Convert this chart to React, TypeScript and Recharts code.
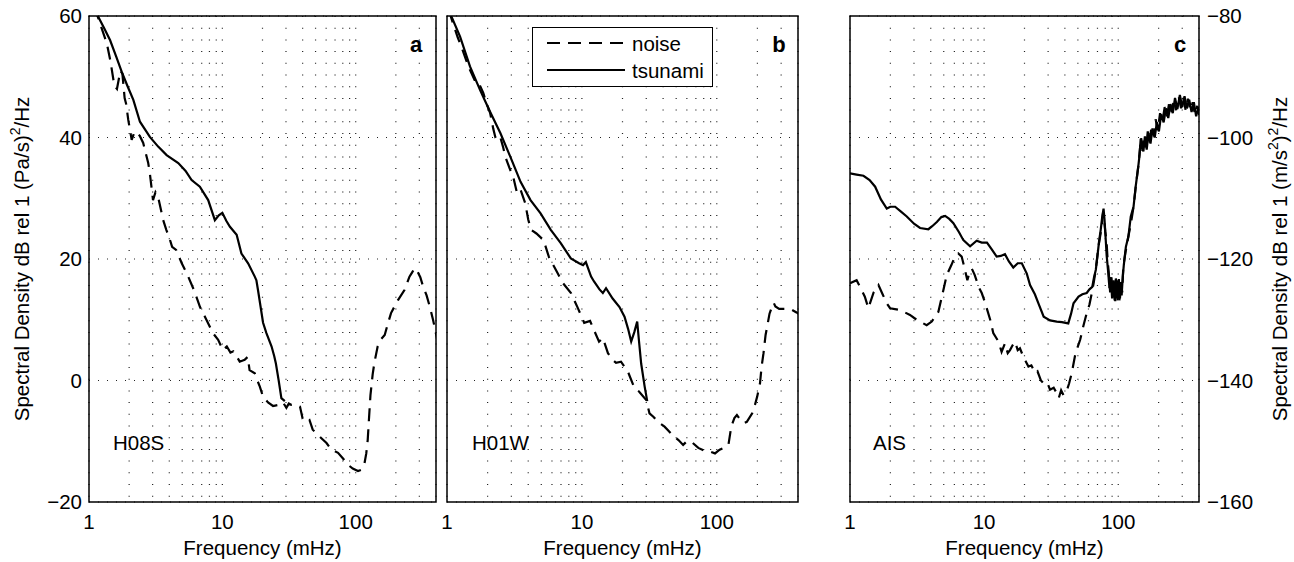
import React from "react";
import { LineChart, Line, XAxis, YAxis, CartesianGrid, ReferenceArea, Legend } from "recharts";

const FONT = '"Liberation Sans", Arial, Helvetica, sans-serif';
const FS = 20.5;
const DASH = "13 8";

const freqTicks = [1, 2, 3, 4, 5, 6, 7, 8, 9, 10, 20, 30, 40, 50, 60, 70, 80, 90, 100, 200, 300, 400];
const freqLabels = [1, 10, 100];
const pressureTicks = [-20, 0, 20, 40, 60];
const accelTicks = [-160, -140, -120, -100, -80];

// [frequency mHz, dB]
const h08sTsunami: [number, number][] = [
  [1.1, 61.2], [1.17, 59.9], [1.3, 58.0], [1.44, 56.0], [1.6, 53.3], [1.76, 50.8], [1.95, 48.4], [2.15, 46.2],
  [2.41, 42.6], [2.86, 40.1], [3.3, 38.5], [3.82, 37.1], [4.67, 35.8], [5.3, 34.5], [5.88, 33.0], [6.78, 31.9],
  [7.83, 29.7], [8.79, 26.4], [9.4, 27.2], [10.0, 27.6], [10.7, 26.3], [11.4, 25.3], [12.8, 24.0], [13.9, 20.9],
  [15.6, 19.3], [17.5, 17.1], [18.0, 16.5], [18.5, 14.9], [20.2, 9.5], [21.4, 7.8], [23.4, 5.6], [24.5, 4.0],
  [25.2, 2.8], [26.4, 0.1], [27.7, -2.9], [29.4, -3.4],
];
const h08sNoise: [number, number][] = [
  [1.1, 61.5], [1.2, 59.0], [1.36, 55.5], [1.45, 52.5], [1.55, 48.5], [1.62, 48.0], [1.72, 51.0], [1.78, 50.5],
  [1.85, 46.5], [1.9, 45.5], [1.97, 42.9], [2.09, 39.6], [2.2, 41.0], [2.4, 40.3], [2.55, 39.1], [2.78, 35.8],
  [2.86, 34.1], [3.02, 29.7], [3.15, 31.0], [3.3, 30.2], [3.6, 26.4], [3.8, 24.8], [4.0, 23.5], [4.2, 22.0],
  [4.5, 21.5], [4.96, 19.3], [5.55, 17.1], [6.2, 14.6], [6.8, 12.1], [7.4, 10.5], [8.5, 7.8], [9.3, 6.7],
  [10.1, 5.0], [10.8, 5.6], [11.5, 4.6], [12.1, 4.8], [12.4, 4.5], [13.5, 3.1], [14.7, 3.4], [15.5, 3.9],
  [16.0, 1.7], [17.5, 1.2], [18.3, 0.0], [19.1, -1.0], [20.2, -2.7], [22.0, -3.6], [24.0, -4.2], [26.5, -4.0],
  [28.5, -3.6], [30.2, -4.5], [31.5, -3.8], [32.8, -4.0], [35, -4.0], [38.2, -4.3], [40, -6.3], [42, -6.8],
  [45, -6.5], [47.6, -8.1], [53.5, -9.2], [60.4, -10.3], [65.8, -11.4], [73.7, -11.9], [80, -12.8], [87.8, -13.9],
  [95, -14.5], [104, -14.9], [110, -14.7], [116, -13.8], [120, -12.0], [123, -9.8], [126, -6.0], [129, -2.4],
  [134, 1.0], [138, 2.9], [146, 5.6], [155, 6.8], [165, 7.5], [175, 9.5], [184, 11.1], [207, 13.2], [232, 14.9],
  [253, 17.1], [265, 17.8], [277, 18.5], [290, 18.0], [305, 17.0], [318, 15.7], [340, 14.0], [360, 12.1],
  [380, 10.0], [395, 8.3], [410, 6.5],
];

const h01wTsunami: [number, number][] = [
  [1.05, 61.0], [1.08, 59.9], [1.25, 56.6], [1.48, 51.7], [1.76, 47.8], [2.09, 44.2], [2.49, 40.7], [2.95, 36.8],
  [3.51, 32.7], [4.16, 29.7], [4.94, 27.5], [5.88, 24.8], [6.97, 22.6], [8.28, 20.1], [9.53, 19.3], [10.2, 19.0],
  [10.7, 19.5], [11.7, 17.1], [12.3, 16.3], [13.5, 15.0], [14.3, 14.4], [15.1, 15.2], [16.9, 13.5], [19.0, 12.1],
  [20.7, 10.5], [22, 8.5], [23.2, 6.4], [24.5, 8.0], [25.7, 9.7], [26.5, 6.5], [27.5, 2.8], [29.2, -1.0],
  [30.5, -3.4],
];
const h01wNoise: [number, number][] = [
  [1.03, 61.0], [1.1, 59.0], [1.2, 56.5], [1.3, 54.5], [1.44, 51.7], [1.6, 49.5], [1.7, 49.5], [1.76, 48.5],
  [1.86, 47.3], [1.95, 45.8], [2.09, 44.0], [2.2, 41.5], [2.28, 40.1], [2.45, 40.5], [2.6, 38.5], [2.71, 36.8],
  [2.95, 34.6], [3.1, 33.5], [3.3, 30.9], [3.5, 31.5], [3.8, 29.2], [4.0, 26.5], [4.2, 24.8], [4.6, 24.2],
  [5.2, 23.1], [5.7, 20.3], [6.6, 17.7], [7.2, 16.1], [8.3, 14.4], [9.3, 12.0], [10.4, 9.5], [11.5, 9.8],
  [12.3, 8.3], [13.4, 6.4], [14.3, 7.0], [15.6, 4.5], [16.9, 3.4], [17.9, 2.9], [19.5, 3.1], [21.9, 1.5],
  [24.5, -1.2], [26.5, -1.8], [30, -3.2], [31.7, -5.4], [34, -6.0], [36.5, -6.8], [41, -7.6], [44, -8.3],
  [47.4, -9.1], [52, -9.8], [56.3, -10.6], [60, -10.0], [65, -10.1], [72.9, -11.1], [80, -11.5], [89, -11.7],
  [97, -12.0], [105, -11.4], [115, -11.0], [122, -10.6], [128, -7.6], [135, -6.2], [141, -5.7], [150, -6.5],
  [160, -7.0], [167, -6.8], [183, -5.4], [192, -4.0], [199, -2.7], [209, -0.5], [215, 2.3], [222, 4.5],
  [230, 7.5], [236, 8.8], [246, 11.0], [256, 12.1], [264, 12.8], [272, 12.2], [290, 11.8], [330, 11.8],
  [362, 11.6], [390, 11.2], [415, 10.8],
];

const aisTsunami: [number, number][] = [
  [1, -105.9], [1.12, -106.1], [1.26, -106.3], [1.4, -107.0], [1.54, -108.1], [1.7, -110.2], [1.88, -111.7],
  [2.0, -111.4], [2.17, -111.4], [2.4, -112.2], [2.65, -113.0], [3.0, -114.2], [3.33, -114.9], [3.84, -115.1],
  [4.1, -114.6], [4.44, -113.9], [4.8, -113.1], [5.12, -112.9], [5.5, -113.4], [5.9, -114.1], [6.5, -115.6],
  [7.0, -116.9], [7.86, -117.9], [8.8, -117.0], [9.6, -117.3], [10.5, -117.3], [11.4, -118.4], [12.4, -119.6],
  [13.3, -119.5], [14.3, -119.2], [15.3, -120.4], [16.5, -121.4], [17.8, -120.7], [19.1, -120.7], [20.8, -122.4],
  [22.0, -124.3], [23.9, -125.8], [25.4, -127.3], [27.8, -129.5], [31, -130.1], [34.8, -130.3], [38, -130.4],
  [42.4, -130.6], [44.5, -129.0], [46.4, -127.3], [50.6, -126.2], [54, -125.8], [58.2, -125.6], [61, -125.0],
  [64, -124.6], [66, -123.0], [68, -121.8], [70, -119.5], [72, -117.0], [74, -115.2], [76, -113.0], [77.7, -111.7],
  [79, -113.5], [80.5, -116.5], [82, -119.5], [84, -122.0], [86, -124.8], [88, -123.0], [90, -126.5], [92, -123.5],
  [94, -126.8], [96, -123.2], [98, -126.5], [100, -123.5], [102, -126.8], [104, -124.0], [106, -126.0], [108, -123.0],
  [110, -121.0], [114, -118.0], [119, -116.3], [124, -113.0], [130, -111.4], [135, -108.0], [141, -104.8],
  [144, -103.0], [147, -100.2], [150, -100.7], [154, -102.3], [158, -99.8], [163, -102.0], [168, -99.3],
  [174, -101.0], [180, -98.5], [187, -100.0], [194, -97.5], [201, -99.0], [209, -96.2], [218, -97.5], [227, -95.2],
  [236, -96.8], [245, -94.5], [255, -96.0], [265, -93.5], [276, -95.3], [288, -93.0], [300, -95.0], [312, -93.2],
  [325, -95.2], [338, -93.8], [352, -95.8], [366, -94.2], [381, -96.5], [396, -95.0], [410, -96.5],
];
const aisNoise: [number, number][] = [
  [1, -124.0], [1.12, -123.5], [1.2, -124.8], [1.29, -126.2], [1.37, -128.1], [1.5, -125.5], [1.63, -124.3],
  [1.75, -125.8], [1.88, -127.3], [1.99, -128.1], [2.36, -128.4], [2.8, -129.2], [3.14, -130.0], [3.73, -130.9],
  [4.07, -130.3], [4.56, -128.7], [4.97, -125.1], [5.27, -122.6], [5.7, -121.0], [6.06, -119.6], [6.42, -119.1],
  [6.8, -119.6], [7.0, -120.7], [7.5, -123.5], [7.8, -122.1], [8.1, -121.6], [8.5, -122.6], [9.1, -124.6],
  [9.6, -125.6], [10.2, -127.3], [11.1, -130.0], [11.7, -132.2], [12.8, -133.6], [13.5, -135.3], [14.3, -133.9],
  [15.0, -135.5], [15.6, -135.0], [16.3, -134.2], [17.0, -133.6], [17.8, -135.0], [18.5, -134.7], [19.6, -136.1],
  [21.4, -137.7], [22.5, -137.5], [24, -138.8], [25, -138.5], [26.5, -140.0], [27.8, -140.5], [29.5, -140.3],
  [31, -141.5], [33, -141.2], [34.8, -142.1], [36, -142.9], [37.5, -141.6], [39, -142.4], [41.4, -141.6],
  [43, -140.5], [45, -138.8], [48, -135.5], [52, -133.3], [55, -131.0], [58.2, -128.9], [61, -127.5],
  [63.5, -125.6], [65.5, -124.0], [67.3, -122.4], [69, -120.5], [71.1, -118.0], [73, -116.5], [75.3, -114.7],
  [77, -112.5], [78.5, -113.5], [80, -115.5], [81.7, -116.9], [83.5, -120.5], [84.9, -122.1], [87, -125.5],
  [89, -123.0], [91, -126.3], [93, -123.8], [95, -127.0], [97, -124.0], [99, -126.8], [101, -123.3], [103, -126.5],
  [105, -123.8], [107, -125.5], [109, -121.3], [113, -119.0], [119, -116.3], [125, -113.8], [130, -111.4],
  [136, -107.5], [141, -104.8], [145, -102.0], [148, -100.0], [152, -102.5], [156, -100.5], [161, -101.8],
  [166, -99.0], [171, -100.8], [177, -98.2], [184, -99.8], [190, -97.0], [197, -98.8], [205, -96.0], [213, -97.5],
  [222, -95.0], [231, -96.5], [240, -94.2], [250, -95.8], [260, -93.8], [270, -95.5], [282, -93.2], [294, -95.2],
  [306, -93.5], [318, -95.5], [331, -93.6], [345, -95.5], [359, -94.2], [373, -96.2], [388, -94.8], [402, -96.3],
];

const rows = (pts: [number, number][]) => pts.map(([f, db]) => ({ f, db }));
const fmtY = (v: number) => (v < 0 ? `\u2212${-v}` : `${v}`);
const fmtX = (v: number) => (freqLabels.includes(v) ? `${v}` : "");
const tickStyle = { fontSize: FS, fill: "#000", fontFamily: FONT };

const yLabel = (parts: React.ReactNode, x: number) => (props: any) => {
  const vb = props.viewBox || { y: 16, height: 486 };
  const cy = vb.y + vb.height / 2;
  return (
    <text x={x} y={cy} transform={`rotate(-90 ${x} ${cy})`} textAnchor="middle" fontSize={FS} fontFamily={FONT} fill="#000">
      {parts}
    </text>
  );
};

const legendContent = (props: any) => {
  const items = props.payload || [];
  return (
    <svg width={181} height={60} style={{ display: "block" }}>
      <rect x={0.5} y={0.5} width={180} height={59} fill="#fff" stroke="#000" strokeWidth={1} />
      {items.map((it: any, i: number) => (
        <g key={i}>
          <line x1={15} x2={93} y1={16 + 27 * i} y2={16 + 27 * i} stroke="#000" strokeWidth={2}
            strokeDasharray={it.value === "noise" ? DASH : undefined} />
          <text x={100} y={24 + 27 * i} fontSize={FS} fontFamily={FONT} fill="#000">{it.value}</text>
        </g>
      ))}
    </svg>
  );
};

type PanelProps = {
  left: number;
  width: number;
  margin: { top: number; right: number; bottom: number; left: number };
  yDomain: [number, number];
  yTicks: number[];
  side: "left" | "right" | "none";
  noise: [number, number][];
  tsunami: [number, number][];
  label?: any;
  legend?: boolean;
};

function Panel({ left, width, margin, yDomain, yTicks, side, noise, tsunami, label, legend }: PanelProps) {
  return (
    <div style={{ position: "absolute", left, top: 0 }}>
      <LineChart width={width} height={562} margin={margin}>
        <CartesianGrid horizontal={false} stroke="#222" strokeWidth={1.2} strokeDasharray="1 10.7" />
        <CartesianGrid vertical={false} stroke="#222" strokeWidth={1.2} strokeDasharray="1 8" />
        <XAxis dataKey="f" type="number" scale="log" domain={[1, 400]} allowDataOverflow ticks={freqTicks}
          tickFormatter={fmtX} interval={0} tickLine={false} axisLine={false} tickSize={6} tickMargin={6}
          tick={tickStyle} height={60}
          label={{ value: "Frequency (mHz)", position: "insideBottom", offset: 7, fontSize: FS, fill: "#000", fontFamily: FONT }} />
        <YAxis type="number" domain={yDomain} allowDataOverflow ticks={yTicks} interval={0}
          orientation={side === "right" ? "right" : "left"} hide={side === "none"}
          width={side === "right" ? 70 : 60} tickLine={false} axisLine={false} tickSize={6}
          tickMargin={side === "right" ? 2 : 1} tickFormatter={fmtY} tick={tickStyle}
          label={label ? { content: label } : undefined} />
        {legend && (
          <Legend layout="vertical" align="center" verticalAlign="middle" content={legendContent}
            wrapperStyle={{ left: 112, top: 27, width: 181, height: 60 }} />
        )}
        <Line data={rows(noise)} dataKey="db" name="noise" type="linear" stroke="#000" strokeWidth={2.2}
          strokeDasharray={DASH} dot={false} activeDot={false} isAnimationActive={false} />
        <Line data={rows(tsunami)} dataKey="db" name="tsunami" type="linear" stroke="#000" strokeWidth={2.2}
          dot={false} activeDot={false} isAnimationActive={false} />
        <ReferenceArea x1={1} x2={400} y1={yDomain[0]} y2={yDomain[1]} fill="none" fillOpacity={0}
          stroke="#000" strokeWidth={1.5} ifOverflow="visible" />
      </LineChart>
    </div>
  );
}

const textStyle = { fontSize: FS, fontFamily: FONT, fill: "#000" } as const;

export default function App() {
  const leftLabel = yLabel(
    <>
      <tspan>Spectral Density dB rel 1 (Pa/s)</tspan>
      <tspan dy={-9} fontSize={14}>2</tspan>
      <tspan dy={9}>/Hz</tspan>
    </>,
    29
  );
  const rightLabel = yLabel(
    <>
      <tspan>Spectral Density dB rel 1 (m/s</tspan>
      <tspan dy={-9} fontSize={14}>2</tspan>
      <tspan dy={9}>)</tspan>
      <tspan dy={-9} fontSize={14}>2</tspan>
      <tspan dy={9}>/Hz</tspan>
    </>,
    487
  );
  return (
    <div style={{ position: "absolute", left: 0, top: 0, width: 1294, height: 562, background: "#fff", fontFamily: FONT }}>
      <Panel left={0} width={446} margin={{ top: 16, right: 10, bottom: 0, left: 29 }} yDomain={[-20, 60]}
        yTicks={pressureTicks} side="left" noise={h08sNoise} tsunami={h08sTsunami} label={leftLabel} />
      <Panel left={420} width={388} margin={{ top: 16, right: 10, bottom: 0, left: 27 }} yDomain={[-20, 60]}
        yTicks={pressureTicks} side="none" noise={h01wNoise} tsunami={h01wTsunami} legend />
      <Panel left={800} width={494} margin={{ top: 16, right: 25, bottom: 0, left: 50 }} yDomain={[-160, -80]}
        yTicks={accelTicks} side="right" noise={aisNoise} tsunami={aisTsunami} label={rightLabel} />
      <svg width={1294} height={562} style={{ position: "absolute", left: 0, top: 0, pointerEvents: "none" }}>
        <text x={416} y={52} textAnchor="middle" fontWeight="bold" {...textStyle} fontSize={22}>a</text>
        <text x={779} y={52} textAnchor="middle" fontWeight="bold" {...textStyle} fontSize={22}>b</text>
        <text x={1180} y={52} textAnchor="middle" fontWeight="bold" {...textStyle} fontSize={22}>c</text>
        <text x={113} y={450} {...textStyle}>H08S</text>
        <text x={472} y={450} {...textStyle}>H01W</text>
        <text x={873} y={450} {...textStyle}>AIS</text>
      </svg>
    </div>
  );
}
